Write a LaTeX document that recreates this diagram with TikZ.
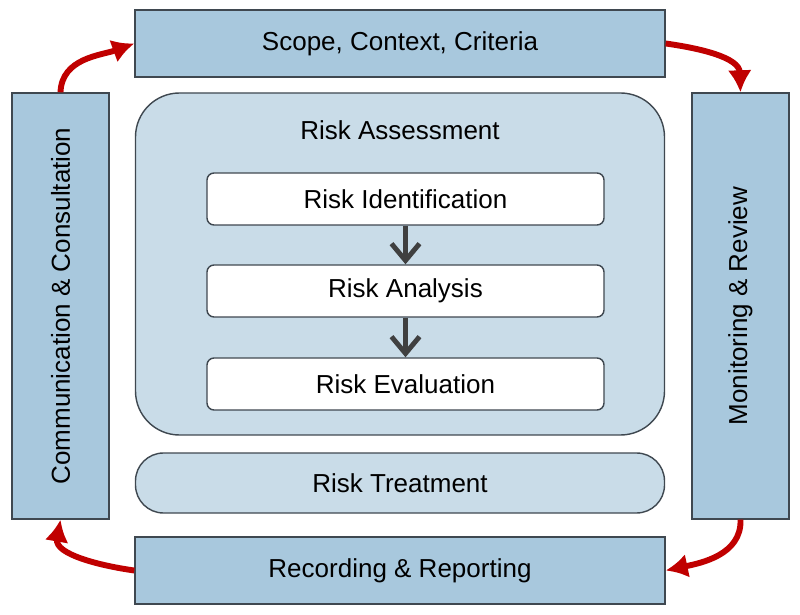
\documentclass[tikz,border=0pt]{standalone}
\usepackage{fontspec}
\setmainfont{Liberation Sans}
\usetikzlibrary{arrows.meta}

\definecolor{outerfill}{HTML}{A8C8DD}
\definecolor{innerfill}{HTML}{C9DCE8}
\definecolor{edgegray}{HTML}{3F4850}
\definecolor{loopred}{HTML}{C00000}
\definecolor{steparrow}{HTML}{404040}

\tikzstyle{frame}=[draw=edgegray,line width=1pt,fill=outerfill,inner sep=0pt,font=\fontsize{18.5}{22}\selectfont]
\tikzstyle{stage}=[draw=edgegray,line width=1pt,fill=innerfill,inner sep=0pt,font=\fontsize{18.5}{22}\selectfont]
\tikzstyle{task}=[draw=edgegray,line width=1pt,fill=white,rounded corners=5pt,minimum width=9.925cm,minimum height=1.3cm,inner sep=0pt,font=\fontsize{18.5}{22}\selectfont]
\tikzstyle{loop} = [draw=loopred,line width=4.2pt,-{Latex[length=0.55cm,width=0.6cm]}]
\tikzstyle{next} = [draw=steparrow,line width=3.5pt,-{Straight Barb[length=0.42cm,width=0.7cm]}]

\begin{document}
\begin{tikzpicture}
			\useasboundingbox (0,0) rectangle (20,15.35);

			\node [frame,minimum width=13.25cm,minimum height=1.675cm] (scope) at (10,14.2625) {Scope, Context, Criteria};
			\node [frame,minimum width=13.25cm,minimum height=1.675cm] (record) at (10,1.0875) {Recording \& Reporting};
			\node [frame,minimum width=2.425cm,minimum height=10.65cm] (comm) at (1.5125,7.7) {};
			\node [frame,minimum width=2.425cm,minimum height=10.65cm] (monitor) at (18.5125,7.7) {};
			\node [rotate=90,font=\fontsize{18.5}{22}\selectfont] (commtext) at (comm.center) {Communication \& Consultation};
			\node [rotate=90,font=\fontsize{18.5}{22}\selectfont] (montext) at (monitor.center) {Monitoring \& Review};

			\node [stage,rounded corners=1.1cm,minimum width=13.225cm,minimum height=8.55cm] (assess) at (10,8.75) {};
			\node [font=\fontsize{18.5}{22}\selectfont] (assesstext) at (10,12.1) {Risk Assessment};
			\node [stage,rounded corners=0.7cm,minimum width=13.225cm,minimum height=1.5cm] (treat) at (10,3.275) {Risk Treatment};

			\node [task] (ident) at (10.1375,10.375) {Risk Identification};
			\node [task] (anal)  at (10.1375,8.075) {Risk Analysis};
			\node [task] (eval)  at (10.1375,5.75) {Risk Evaluation};

			\draw [next] (ident) -- (anal);
			\draw [next] (anal) -- (eval);

			\draw [loop] (comm.north) to[out=88,in=200] (scope.west);
			\draw [loop] (scope.east) to[out=-8,in=92] (monitor.north);
			\draw [loop] (monitor.south) to[out=-88,in=12] (record.east);
			\draw [loop] (record.west) to[out=172,in=-100] (comm.south);
	\end{tikzpicture}
\end{document}
